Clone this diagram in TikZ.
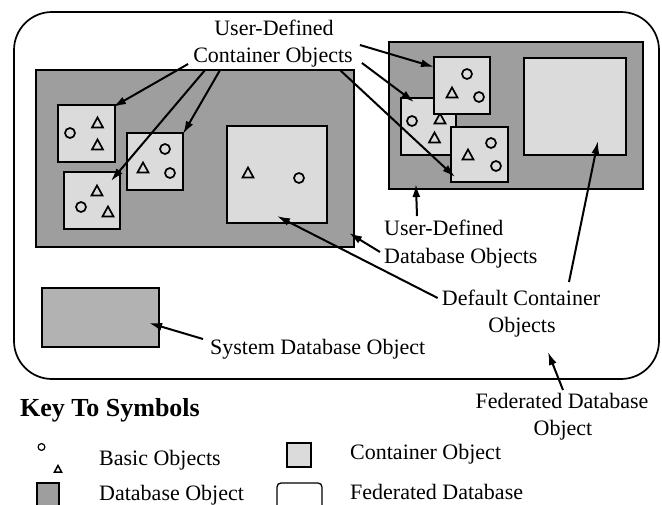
\documentclass[tikz,border=0pt]{standalone}
\usepackage{fontspec}
\setmainfont{Liberation Serif}
\usetikzlibrary{arrows.meta,fit}

\definecolor{dbfill}{gray}{0.62}
\definecolor{cfill}{gray}{0.86}
\definecolor{sysfill}{gray}{0.70}

\begin{document}
\begin{tikzpicture}[x=1pt,y=-1pt,
  dbbox/.style={draw=black, line width=2.2pt, fill=dbfill, inner sep=0pt},
  sysbox/.style={draw=black, line width=2.2pt, fill=sysfill, inner sep=0pt},
  contbox/.style={draw=black, line width=2pt, fill=cfill, inner sep=0pt},
  fedbox/.style={draw=black, line width=1.7pt, rounded corners=38pt, inner sep=0pt},
  symline/.style={line width=1.7pt},
  lbl/.style={inner sep=0pt, font=\fontsize{22}{27}\selectfont},
  keylbl/.style={inner sep=0pt, font=\fontsize{26}{30}\selectfont\bfseries},
  ptr/.style={line width=2pt, -{Latex[length=13pt,width=8pt]}},
  tri/.pic={\draw[symline, line join=miter] (-5.5,4.5) -- (5.5,4.5) -- (0,-5.5) -- cycle;},
  circ/.pic={\draw[symline] (0,0) circle[radius=5];},
  keytri/.pic={\draw[line width=1.5pt] (-3.5,3) -- (3.5,3) -- (0,-3.5) -- cycle;},
  keycirc/.pic={\draw[line width=1.2pt] (0,0) circle[radius=3.4];}
]
\useasboundingbox (0,0) rectangle (662,504);
\clip (0,0) rectangle (662,504);

% federated database: the outer rounded frame
\node[fedbox, fit={(14,12) (659,379)}] (fed) {};

% left user-defined database with its containers
\node[dbbox, fit={(36,70) (354,247)}] (ldb) {};
\node[contbox, fit={(58,105) (115,162)}] (c1) {};
\pic at (70,133) {circ};
\pic at (97.5,123) {tri};
\pic at (97.5,145) {tri};
\node[contbox, fit={(127,133) (183,190)}] (c2) {};
\pic at (165,149) {circ};
\pic at (143,168) {tri};
\pic at (170,173) {circ};
\node[contbox, fit={(64,172) (120,229)}] (c3) {};
\pic at (97,191) {tri};
\pic at (81,207) {circ};
\pic at (108,212) {tri};
\node[contbox, fit={(227,126) (327,223)}] (ldef) {};
\pic at (248,173) {tri};
\pic at (299,178) {circ};

% right user-defined database with its containers
\node[dbbox, fit={(389,42) (643,189)}] (rdb) {};
\node[contbox, fit={(401,98) (456,155)}] (cB) {};
\pic at (412,121) {circ};
\pic at (440,119) {tri};
\pic at (434.5,138) {tri};
\node[contbox, fit={(434,57) (490,114)}] (cA) {};
\pic at (467,74) {circ};
\pic at (452,93) {tri};
\pic at (479,97) {circ};
\node[contbox, fit={(451,127) (508,182)}] (cC) {};
\pic at (491,143) {circ};
\pic at (468,155) {tri};
\pic at (496,166) {circ};
\node[contbox, fit={(524,58) (626,155)}] (rdef) {};

% system database
\node[sysbox, fit={(42,288) (159,347)}] (sdbbox) {};

% labels
\node[lbl, anchor=base] (udc1) at (274,35) {User-Defined};
\node[lbl, anchor=base] (udc2) at (273,62) {Container Objects};
\node[lbl, anchor=base west] (udd1) at (384,235) {User-Defined};
\node[lbl, anchor=base west] (udd2) at (384,263) {Database Objects};
\node[lbl, anchor=base] (dc1) at (521,305) {Default Container};
\node[lbl, anchor=base] (dc2) at (522,332) {Objects};
\node[lbl, anchor=base] (fd1) at (562,408) {Federated Database};
\node[lbl, anchor=base] (fd2) at (563,435) {Object};
\node[lbl, anchor=base west] (sdb) at (210,354) {System Database Object};
\coordinate (fedpt) at (548,352);

% pointers
\draw[ptr] ([shift={(-5,2)}]udc2.base west) -- ([shift={(-3,3)}]c1.north east);
\draw[ptr] ([shift={(12,8)}]udc2.base west) -- ([shift={(-10,10)}]c3.north east);
\draw[ptr] ([shift={(27,8)}]udc2.base west) -- ([shift={(-1,2)}]c2.north east);
\draw[ptr] ([shift={(7,-17)}]udc2.base east) -- ([shift={(1,11)}]cA.north west);
\draw[ptr] ([shift={(9,1)}]udc2.base east) -- ([shift={(14,5)}]cB.north west);
\draw[ptr] ([shift={(-13,8)}]udc2.base east) -- ([shift={(5,-6)}]cC.south west);
\draw[ptr] ([shift={(33,-19)}]udd1.base west) -- ([shift={(28,-6)}]rdb.south west);
\draw[ptr] ([shift={(-4,-11)}]udd2.base west) -- ([shift={(-6,-15)}]ldb.south east);
\draw[ptr] ([shift={(-4,-7)}]dc1.base west) -- ([shift={(0,-8)}]ldef.south);
\draw[ptr] ([shift={(48,-23)}]dc1.base) -- ([shift={(23,-15)}]rdef.south);
\draw[ptr] ([shift={(-7,-15)}]sdb.base west) -- ([shift={(-11,5.5)}]sdbbox.east);
\draw[ptr] ([shift={(1,-18)}]fd1.base) -- (fedpt);

% key to symbols
\node[keylbl, anchor=base west] (key) at (20,416) {Key To Symbols};
\pic at (41.5,447) {keycirc};
\pic at (58,469) {keytri};
\node[lbl, anchor=base west] (kbasic) at (99,465) {Basic Objects};
\node[draw=black, line width=1.6pt, fill=dbfill, inner sep=0pt, fit={(37,483) (59,515)}] (kdb) {};
\node[lbl, anchor=base west] (kdbl) at (99,500) {Database Object};
\node[draw=black, line width=1.3pt, fill=cfill, inner sep=0pt, fit={(287,443) (311,467)}] (kc) {};
\node[lbl, anchor=base west] (kcl) at (350,459) {Container Object};
\node[draw=black, line width=1.3pt, rounded corners=4pt, inner sep=0pt, fit={(277,483) (322,515)}] (kf) {};
\node[lbl, anchor=base west] (kfl) at (350,499) {Federated Database};
\end{tikzpicture}
\end{document}
